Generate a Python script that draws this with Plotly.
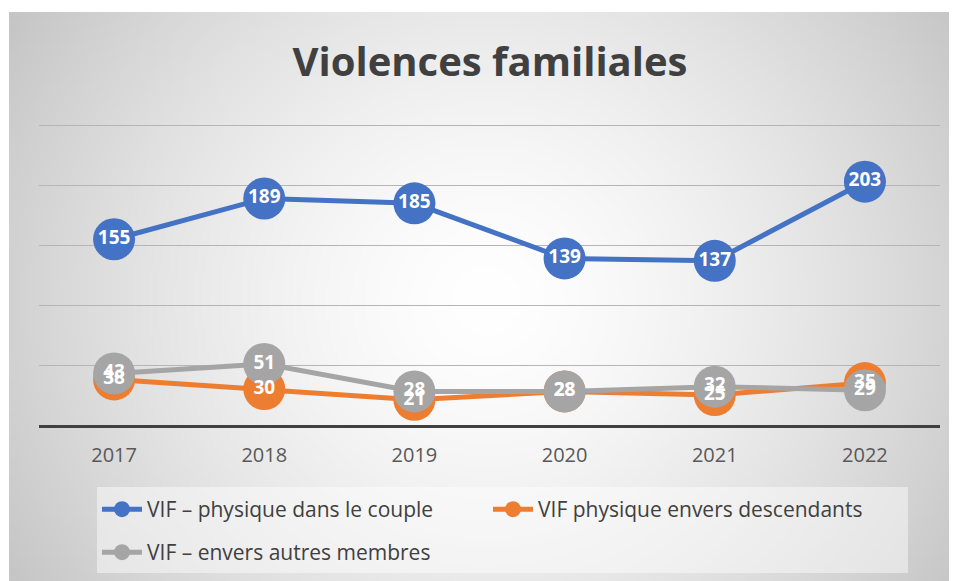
import base64, struct, zlib
import numpy as np
import plotly.graph_objects as go

years = ["2017", "2018", "2019", "2020", "2021", "2022"]
couple = [155, 189, 185, 139, 137, 203]
descendants = [38, 30, 21, 28, 25, 35]
autres = [43, 51, 28, 28, 32, 29]

names = ["VIF – physique dans le couple", "VIF physique envers descendants", "VIF – envers autres membres"]
colors = ["#4472C4", "#ED7D31", "#A5A5A5"]
series = [couple, descendants, autres]
legend_ids = ["legend", "legend", "legend2"]

FONT = "Open Sans"
OFF = 8  # page body margin of the html page


def gradient_png(w=240, h=144):
    yy, xx = np.mgrid[0:h, 0:w]
    dx = (xx - (w - 1) / 2) / ((w - 1) / 2)
    dy = (yy - (h - 1) * 0.5) / ((h - 1) / 2 * 1.6)
    d = np.sqrt(dx ** 2 + dy ** 2)
    v = 255 - 45 * np.power(d, 1.5)
    v = np.clip(v, 0, 255).astype(np.uint8)
    raw = b"".join(b"\x00" + v[r].tobytes() for r in range(h))

    def chunk(tag, data):
        return struct.pack(">I", len(data)) + tag + data + struct.pack(">I", zlib.crc32(tag + data) & 0xFFFFFFFF)

    png = b"\x89PNG\r\n\x1a\n" + chunk(b"IHDR", struct.pack(">IIBBBBB", w, h, 8, 0, 0, 0, 0)) \
        + chunk(b"IDAT", zlib.compress(raw, 9)) + chunk(b"IEND", b"")
    return "data:image/png;base64," + base64.b64encode(png).decode()


fig = go.Figure()
for name, col, vals, lg in zip(names, colors, series, legend_ids):
    fig.add_trace(go.Scatter(
        x=years, y=vals, name=name, mode="lines+markers", legend=lg,
        line=dict(color=col, width=5),
        marker=dict(color=col, size=42),
    ))
for col, vals in zip(colors, series):
    fig.add_trace(go.Scatter(
        x=years, y=vals, mode="text", text=[str(v) for v in vals],
        textposition="middle center", showlegend=False, hoverinfo="skip",
        textfont=dict(family=FONT, size=19, color="white", weight="bold"),
    ))

W, H = 957, 581
# target screen positions (page coords) minus body offset
L = 39 - OFF
R = W - (940 - OFF)
T = 123 - OFF
B = H - (425 - OFF)
pw, ph = W - L - R, H - T - B


def px(xs):
    return (xs - OFF - L) / pw


def py(ys):
    return (H - B - (ys - OFF)) / ph


fig.add_layout_image(dict(
    source=gradient_png(), xref="paper", yref="paper",
    x=px(9), y=py(12), sizex=(W + OFF - 9) / pw, sizey=(H + OFF - 12) / ph,
    sizing="stretch", layer="below", xanchor="left", yanchor="top",
))
fig.add_shape(type="rect", xref="paper", yref="paper",
              x0=px(97), x1=px(908), y0=py(487), y1=py(573),
              fillcolor="rgba(255,255,255,0.45)", line=dict(width=0), layer="below")

legfont = dict(family=FONT, size=21, color="#404040")
fig.update_layout(
    width=W, height=H,
    margin=dict(l=L, r=R, t=T, b=B),
    paper_bgcolor="white", plot_bgcolor="rgba(0,0,0,0)",
    title=dict(text="<b>Violences familiales</b>", x=(490 - OFF) / W, xanchor="center",
               y=1 - (62 - OFF) / H, yanchor="middle",
               font=dict(family=FONT, size=40, color="#404040")),
    xaxis=dict(type="category", range=[-0.5, 5.5], showgrid=False,
               showline=True, linecolor="#404040", linewidth=3,
               ticks="", tickfont=dict(family=FONT, size=20, color="#595959"),
               ticklabelstandoff=10),
    yaxis=dict(range=[0, 252], dtick=50, showticklabels=False, showgrid=True,
               gridcolor="#b5b5b5", gridwidth=1, zeroline=False),
    legend=dict(orientation="h", x=px(97), xanchor="left",
                y=py(489), yanchor="top",
                bgcolor="rgba(0,0,0,0)", entrywidth=336,
                font=legfont, itemwidth=40),
    legend2=dict(orientation="h", x=px(97), xanchor="left",
                 y=py(532), yanchor="top",
                 bgcolor="rgba(0,0,0,0)",
                 font=legfont, itemwidth=40),
    showlegend=True,
)

fig.write_html("out.html", config={"displayModeBar": False},
               post_script="document.documentElement.style.overflow='hidden';"
                           "document.body.style.overflow='hidden';")
